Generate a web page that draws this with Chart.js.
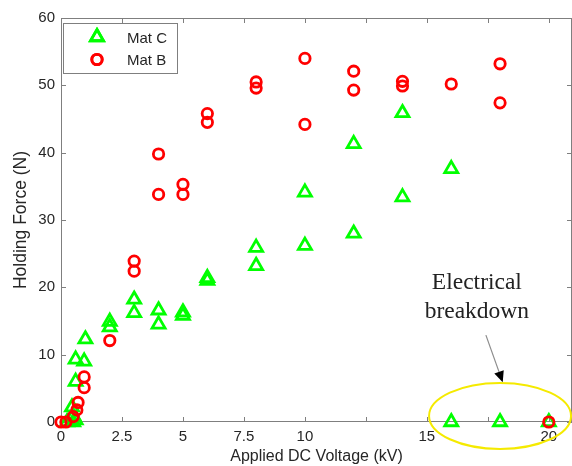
<!DOCTYPE html>
<html>
<head>
<meta charset="utf-8">
<script src="https://cdn.jsdelivr.net/npm/chart.js@4.4.1/dist/chart.umd.min.js"></script>
<style>
  html, body { margin: 0; padding: 0; background: #fff; }
  #chart { display: block; }
</style>
</head>
<body>
<canvas id="chart" width="572" height="466"></canvas>
<script>
// Mat C (green triangles)
const matCVoltage = [0.25, 0.5, 0.5, 0.45, 0.6, 0.6, 0.6, 0.95, 1, 2, 2, 3, 3, 4, 4, 5, 5, 6, 6, 8, 8, 10, 10, 12, 12, 14, 14, 16, 16, 18, 20];
const matCForce   = [0, 0, 0.9, 2.2, 6.0, 9.3, 0.3, 9.0, 12.3, 14.9, 14.1, 18.2, 16.2, 16.6, 14.5, 16.3, 15.8, 21.0, 21.4, 25.9, 23.2, 34.1, 26.2, 41.3, 28.0, 45.9, 33.4, 37.6, 0, 0, 0];

// Mat B (red circles)
const matBVoltage = [0, 0.2, 0.5, 0.65, 0.7, 0.95, 0.95, 2, 3, 3, 4, 4, 5, 5, 6, 6, 8, 8, 10, 10, 12, 12, 14, 14, 16, 18, 18, 20];
const matBForce   = [0, 0, 0.8, 1.8, 2.9, 5.1, 6.7, 12.1, 23.9, 22.4, 39.8, 33.8, 35.3, 33.8, 45.8, 44.5, 50.5, 49.6, 54.0, 44.2, 52.1, 49.3, 50.6, 49.9, 50.2, 53.2, 47.4, 0];

const xTicks = [0, 2.5, 5, 7.5, 10, 12.5, 15, 17.5, 20];
const xLabelsShown = [0, 2.5, 5, 7.5, 10, 15, 20];
const yTicks = [0, 10, 20, 30, 40, 50, 60];

const GREEN = '#00ff00';
const RED = '#ff0000';
const AXIS = '#7f7f7f';
const TEXT = '#262626';

const toPoints = (xs, ys) => xs.map((v, i) => ({ x: v, y: ys[i] }));

// annotation placement in data units
const note = { textX: 17.05, line1Y: 20.6, line2Y: 16.4,
               arrowFrom: [17.42, 12.9], arrowTo: [18.11, 5.9],
               ellX: 18, ellY: 0.9, ellRx: 2.91, ellRy: 4.9 };

const framePlugin = {
    id: 'frame',
    beforeDatasetsDraw(chart) {
        const { ctx, chartArea: a, scales: { x, y } } = chart;
        ctx.save();
        ctx.strokeStyle = AXIS;
        ctx.lineWidth = 1;
        ctx.strokeRect(a.left + 0.5, a.top + 0.5, a.right - a.left - 1, a.bottom - a.top - 1);
        ctx.beginPath();
        const len = 5;
        xTicks.forEach(v => {
            const px = Math.round(x.getPixelForValue(v)) + 0.5;
            ctx.moveTo(px, a.bottom); ctx.lineTo(px, a.bottom - len);
            ctx.moveTo(px, a.top); ctx.lineTo(px, a.top + len);
        });
        yTicks.forEach(v => {
            const py = Math.round(y.getPixelForValue(v)) + 0.5;
            ctx.moveTo(a.left, py); ctx.lineTo(a.left + len, py);
            ctx.moveTo(a.right, py); ctx.lineTo(a.right - len, py);
        });
        ctx.stroke();
        ctx.restore();
    },
    afterDraw(chart) {
        const { ctx, scales: { x, y } } = chart;
        ctx.save();

        // legend box
        ctx.fillStyle = '#fff';
        ctx.fillRect(63, 23, 114, 50);
        ctx.strokeStyle = AXIS;
        ctx.lineWidth = 1;
        ctx.strokeRect(63.5, 23.5, 114, 50);
        ctx.lineWidth = 2.8;
        ctx.strokeStyle = GREEN;
        Chart.helpers.drawPoint(ctx, { pointStyle: 'triangle', radius: 7.5, rotation: 0, borderWidth: 2.8 }, 97, 37);
        ctx.stroke();
        ctx.strokeStyle = RED;
        Chart.helpers.drawPoint(ctx, { pointStyle: 'circle', radius: 5.2, rotation: 0, borderWidth: 2.8 }, 97, 59.5);
        ctx.stroke();
        ctx.fillStyle = TEXT;
        ctx.font = '15px "Liberation Sans", Arial, sans-serif';
        ctx.textAlign = 'left';
        ctx.textBaseline = 'middle';
        ctx.fillText('Mat C', 127, 38.5);
        ctx.fillText('Mat B', 127, 61);

        // electrical breakdown note
        ctx.font = '23.5px "Liberation Serif", "Times New Roman", serif';
        ctx.textAlign = 'center';
        ctx.fillStyle = '#222';
        const tx = x.getPixelForValue(note.textX);
        ctx.fillText('Electrical', tx, y.getPixelForValue(note.line1Y));
        ctx.fillText('breakdown', tx, y.getPixelForValue(note.line2Y));

        const x0 = x.getPixelForValue(note.arrowFrom[0]), y0 = y.getPixelForValue(note.arrowFrom[1]);
        const x1 = x.getPixelForValue(note.arrowTo[0]), y1 = y.getPixelForValue(note.arrowTo[1]);
        const dx = x1 - x0, dy = y1 - y0, d = Math.hypot(dx, dy);
        const ux = dx / d, uy = dy / d, head = 11, hw = 5;
        const bx = x1 - ux * head, by = y1 - uy * head;
        ctx.strokeStyle = '#8c8c8c';
        ctx.lineWidth = 1.2;
        ctx.beginPath(); ctx.moveTo(x0, y0); ctx.lineTo(bx, by); ctx.stroke();
        ctx.fillStyle = '#000';
        ctx.beginPath();
        ctx.moveTo(x1, y1);
        ctx.lineTo(bx - uy * hw, by + ux * hw);
        ctx.lineTo(bx + uy * hw, by - ux * hw);
        ctx.closePath(); ctx.fill();

        const ex = x.getPixelForValue(note.ellX), ey = y.getPixelForValue(note.ellY);
        const rx = x.getPixelForValue(note.ellX + note.ellRx) - ex;
        const ry = ey - y.getPixelForValue(note.ellY + note.ellRy);
        ctx.strokeStyle = '#f5ea00';
        ctx.lineWidth = 2;
        ctx.beginPath(); ctx.ellipse(ex, ey, rx, ry, 0, 0, Math.PI * 2); ctx.stroke();
        ctx.restore();
    }
};

new Chart(document.getElementById('chart'), {
    type: 'scatter',
    data: {
        datasets: [{
            label: 'Mat C',
            data: toPoints(matCVoltage, matCForce),
            pointStyle: 'triangle',
            pointRadius: 7.5,
            pointHoverRadius: 7.5,
            pointBorderWidth: 2.8,
            borderColor: GREEN,
            backgroundColor: 'rgba(0,0,0,0)',
            order: 1,
            clip: false
        }, {
            label: 'Mat B',
            data: toPoints(matBVoltage, matBForce),
            pointStyle: 'circle',
            pointRadius: 5.2,
            pointHoverRadius: 5.2,
            pointBorderWidth: 2.8,
            borderColor: RED,
            backgroundColor: 'rgba(0,0,0,0)',
            order: 0,
            clip: false
        }]
    },
    options: {
        responsive: false,
        animation: false,
        events: [],
        layout: { autoPadding: false, padding: { top: 18, right: 0, left: 0, bottom: 0 } },
        plugins: { legend: { display: false }, tooltip: { enabled: false } },
        scales: {
            x: {
                type: 'linear',
                min: 0,
                max: 20.95,
                afterBuildTicks: s => { s.ticks = xTicks.map(v => ({ value: v })); },
                afterFit: s => { s.height = 44; s.paddingLeft = 0; s.paddingRight = 0; },
                grid: { drawOnChartArea: false, drawTicks: false },
                border: { display: false },
                ticks: {
                    padding: 6,
                    color: TEXT,
                    maxRotation: 0,
                    autoSkip: false,
                    font: { family: '"Liberation Sans", Arial, sans-serif', size: 15 },
                    callback: v => xLabelsShown.includes(v) ? String(v) : ''
                },
                title: {
                    display: true,
                    text: 'Applied DC Voltage (kV)',
                    color: TEXT,
                    padding: { top: 0, bottom: 0 },
                    font: { family: '"Liberation Sans", Arial, sans-serif', size: 16 }
                }
            },
            y: {
                min: 0,
                max: 60,
                afterBuildTicks: s => { s.ticks = yTicks.map(v => ({ value: v })); },
                afterFit: s => { s.width = 61; s.paddingTop = 0; s.paddingBottom = 0; },
                grid: { drawOnChartArea: false, drawTicks: false },
                border: { display: false },
                ticks: {
                    padding: 6,
                    color: TEXT,
                    font: { family: '"Liberation Sans", Arial, sans-serif', size: 15 }
                },
                title: {
                    display: true,
                    text: 'Holding Force (N)',
                    color: TEXT,
                    padding: { top: 11, bottom: 0 },
                    font: { family: '"Liberation Sans", Arial, sans-serif', size: 17.5 }
                }
            }
        }
    },
    plugins: [framePlugin]
});
</script>
</body>
</html>
